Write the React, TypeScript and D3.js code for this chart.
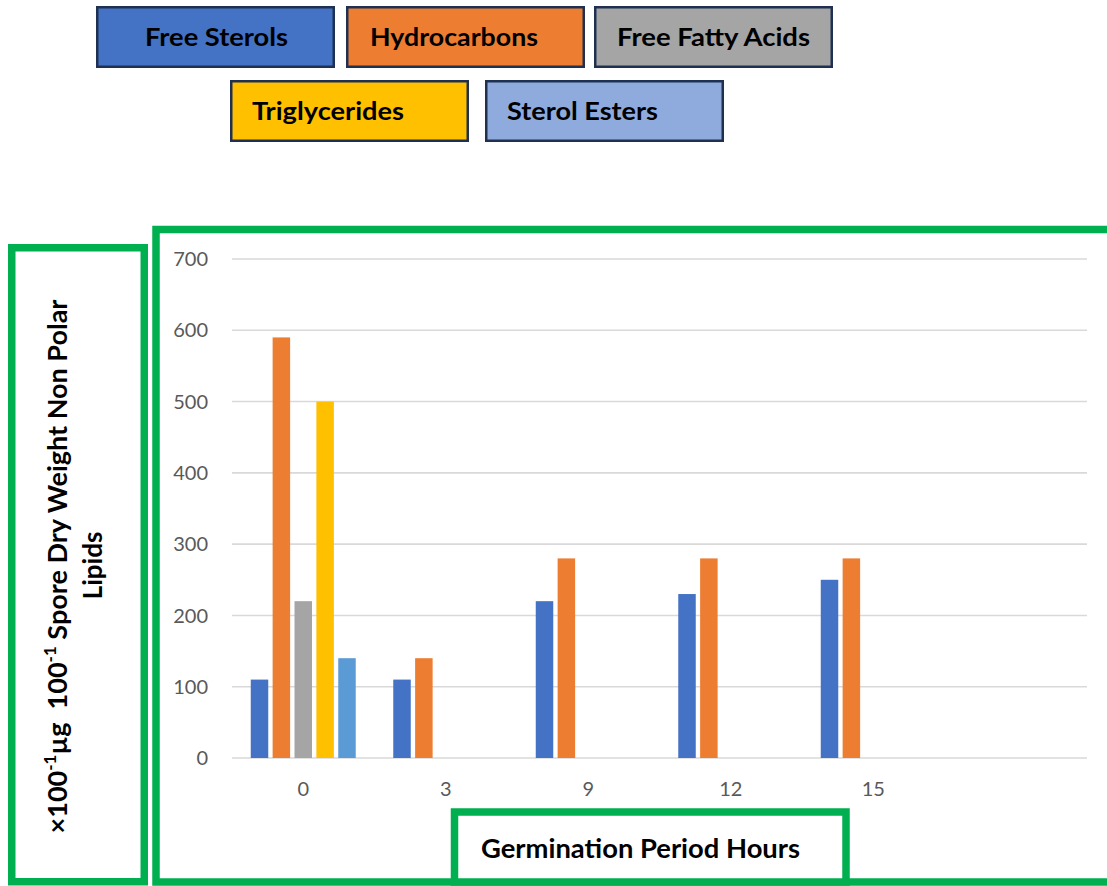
import React from "react";
import * as d3 from "d3";

// Germination period (hours); the trailing empty slot keeps the extra category Excel left on the axis
const categories = ["0", "3", "9", "12", "15", ""];

const seriesNames = [
  "Free Sterols",
  "Hydrocarbons",
  "Free Fatty Acids",
  "Triglycerides",
  "Sterol Esters",
];

const freeSterols = [110, 110, 220, 230, 250, null];
const hydrocarbons = [590, 140, 280, 280, 280, null];
const freeFattyAcids = [220, null, null, null, null, null];
const triglycerides = [500, null, null, null, null, null];
const sterolEsters = [140, null, null, null, null, null];

const yTicks = [0, 100, 200, 300, 400, 500, 600, 700];

const seriesValues = [freeSterols, hydrocarbons, freeFattyAcids, triglycerides, sterolEsters];

// bar fills and legend-box fills
const barColors = ["#4472C4", "#ED7D31", "#A5A5A5", "#FFC000", "#5B9BD5"];
const legendColors = ["#4472C4", "#ED7D31", "#A5A5A5", "#FFC000", "#8FAADC"];

// legend box layout: [x0, x1, y0, y1, textX, textLength]
const legendLayout: [number, number, number, number, number, number][] = [
  [96, 335, 6, 68, 145, 143],
  [346, 585, 6, 68, 370, 168],
  [594, 833, 6, 68, 617, 193],
  [230, 469, 80, 142, 252, 152],
  [485, 724, 80, 142, 507, 151],
];

const W = 1107;
const H = 886;
const GREEN = "#00B050";
const FONT = "Lato, 'Open Sans', sans-serif";

export default function App() {
  const plotLeft = 232;
  const plotRight = 1087;
  const plotTop = 259;
  const plotBottom = 758;

  const x0 = d3.scaleBand<string>().domain(categories).range([plotLeft, plotRight]).paddingInner(0).paddingOuter(0);
  const groupPad = x0.bandwidth() * 0.1316;
  const x1 = d3
    .scaleBand<string>()
    .domain(seriesNames)
    .range([groupPad, x0.bandwidth() - groupPad])
    .paddingInner(0.2)
    .paddingOuter(0);
  const y = d3.scaleLinear().domain([0, 700]).range([plotBottom, plotTop]);

  return (
    <svg
      width={W}
      height={H}
      viewBox={`0 0 ${W} ${H}`}
      style={{ position: "absolute", left: 0, top: 0, background: "#fff" }}
      fontFamily={FONT}
    >
      <rect x={0} y={0} width={W} height={H} fill="#fff" />

      {/* legend boxes */}
      {seriesNames.map((name, i) => {
        const [ax, bx, ay, by, tx, tl] = legendLayout[i];
        return (
          <g key={name}>
            <rect
              x={ax + 1.25}
              y={ay + 1.25}
              width={bx - ax - 2.5}
              height={by - ay - 2.5}
              fill={legendColors[i]}
              stroke="#1F3050"
              strokeWidth={2.5}
            />
            <text
              x={tx}
              y={(ay + by) / 2 + 8.5}
              fontSize={24}
              fontWeight={700}
              fill="#000"
              textLength={tl}
              lengthAdjust="spacingAndGlyphs"
            >
              {name}
            </text>
          </g>
        );
      })}

      {/* gridlines */}
      {yTicks.map((t) => (
        <line
          key={t}
          x1={plotLeft}
          x2={plotRight}
          y1={y(t)}
          y2={y(t)}
          stroke="#D9D9D9"
          strokeWidth={1.6}
        />
      ))}

      {/* y tick labels */}
      {yTicks.map((t) => (
        <text
          key={"yl" + t}
          x={208}
          y={y(t)}
          dy="0.36em"
          textAnchor="end"
          fontSize={20}
          fill="#595959"
        >
          {t}
        </text>
      ))}

      {/* bars */}
      {categories.map((c, ci) => (
        <g key={"c" + ci} transform={`translate(${x0(c)},0)`}>
          {seriesNames.map((s, si) => {
            const v = seriesValues[si][ci];
            if (v == null) return null;
            return (
              <rect
                key={s}
                x={x1(s)}
                y={y(v)}
                width={x1.bandwidth()}
                height={y(0) - y(v)}
                fill={barColors[si]}
              />
            );
          })}
        </g>
      ))}

      {/* x tick labels */}
      {categories.map((c, ci) => (
        <text
          key={"xl" + ci}
          x={(x0(c) as number) + x0.bandwidth() / 2}
          y={796}
          textAnchor="middle"
          fontSize={20}
          fill="#595959"
        >
          {c}
        </text>
      ))}

      {/* framing boxes */}
      <rect x={11.75} y={247.75} width={132.5} height={634} fill="none" stroke={GREEN} strokeWidth={7.5} />
      <rect x={156} y={229.5} width={1000} height={652.5} fill="none" stroke={GREEN} strokeWidth={7.5} />
      <rect x={454.5} y={812} width={391.5} height={70} fill="#fff" stroke={GREEN} strokeWidth={7.5} />

      {/* x axis title */}
      <text x={481} y={858} fontSize={26} fontWeight={700} fill="#000" textLength={319} lengthAdjust="spacingAndGlyphs">
        Germination Period Hours
      </text>

      {/* y axis title */}
      <g transform="translate(67,566.5) rotate(-90)">
        <text x={0} y={0} textAnchor="middle" fontSize={27} fontWeight={700} fill="#000">
          <tspan>×100</tspan>
          <tspan dy={-11} fontSize={17}>-1</tspan>
          <tspan dy={11}>µg</tspan>
          <tspan xmlSpace="preserve">{"  100"}</tspan>
          <tspan dy={-11} fontSize={17}>-1</tspan>
          <tspan dy={11}>{" Spore Dry Weight Non Polar"}</tspan>
        </text>
      </g>
      <g transform="translate(101.7,565.5) rotate(-90)">
        <text x={0} y={0} textAnchor="middle" fontSize={26} fontWeight={700} fill="#000">
          Lipids
        </text>
      </g>
    </svg>
  );
}
